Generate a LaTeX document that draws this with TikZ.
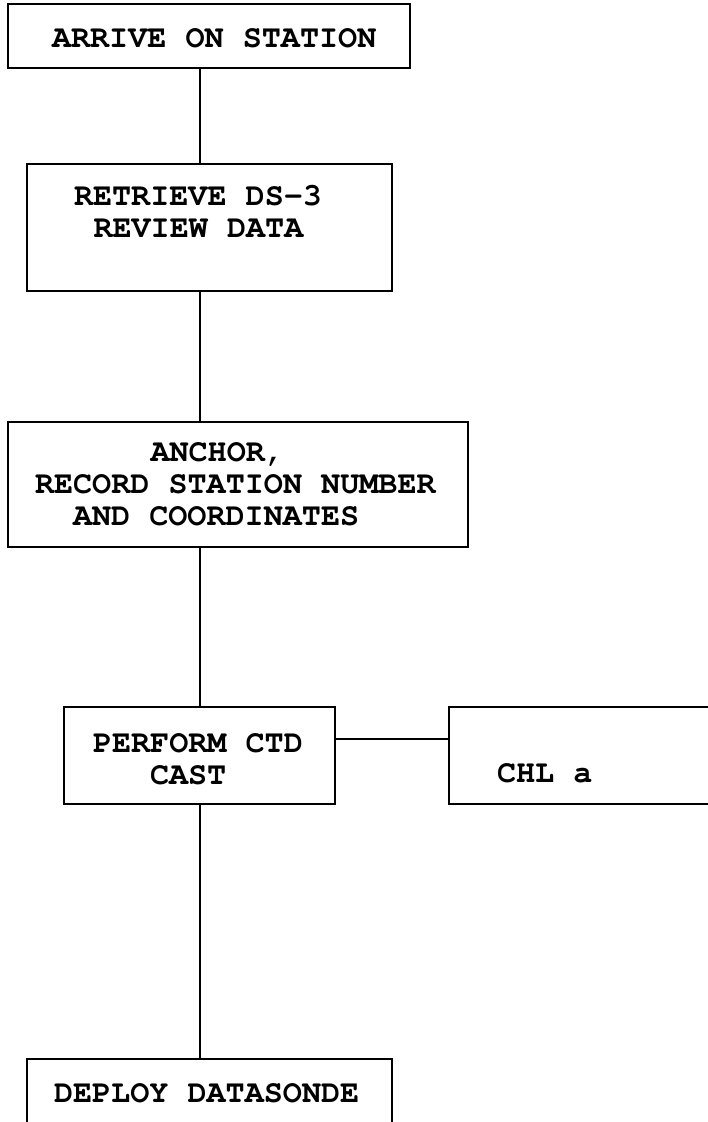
\documentclass[tikz,border=0pt]{standalone}
\usepackage[T1]{fontenc}
\usepackage{courier}
\begin{document}
\begin{tikzpicture}[x=1pt,y=-1pt,
  box/.style={draw=black,line width=1.4pt,inner sep=0pt,outer sep=0pt,rectangle},
  conn/.style={draw=black,line width=2pt},
  txt/.style={anchor=base west,inner sep=0pt,outer sep=0pt,font=\fontsize{31.8}{32}\selectfont\ttfamily\bfseries}]
\useasboundingbox (0,0) rectangle (708,1122);
\clip (0,0) rectangle (708,1122);
% boxes (text-free frames)
\node[box,minimum width=402pt,minimum height=64pt] (b1) at (209,36) {};
\node[box,minimum width=365pt,minimum height=127pt] (b2) at (209.5,227.5) {};
\node[box,minimum width=460pt,minimum height=125pt] (b3) at (238,484.5) {};
\node[box,minimum width=271pt,minimum height=97pt] (b4) at (199.5,755.5) {};
\node[box,minimum width=300pt,minimum height=97pt,anchor=west] (b5) at (449,755.5) {};
\node[box,minimum width=365pt,minimum height=120pt,anchor=north] (b6) at (209.5,1059) {};
% texts
\node[txt] (t1) at (52,47) {ARRIVE ON STATION};
\node[txt] (t2a) at (74,205) {RETRIEVE DS-3};
\node[txt] (t2b) at (93.5,237) {REVIEW DATA};
\node[txt] (t3a) at (150.5,461.5) {ANCHOR,};
\node[txt] (t3b) at (35,493.5) {RECORD STATION NUMBER};
\node[txt] (t3c) at (73,525.5) {AND COORDINATES};
\node[txt] (t4a) at (93,752) {PERFORM CTD};
\node[txt] (t4b) at (150,784) {CAST};
\node[txt] (t5) at (497,782) {CHL a};
\node[txt] (t6) at (54,1102.5) {DEPLOY DATASONDE};
% connectors
\coordinate (xc) at (200,0);
\draw[conn] (b1.south -| xc) -- (b2.north -| xc);
\draw[conn] (b2.south -| xc) -- (b3.north -| xc);
\draw[conn] (b3.south -| xc) -- (b4.north -| xc);
\draw[conn] (b4.south -| xc) -- (b6.north -| xc);
\coordinate (yc) at (0,739);
\draw[conn,line width=1.6pt] (b4.east |- yc) -- (b5.west |- yc);
\end{tikzpicture}
\end{document}
